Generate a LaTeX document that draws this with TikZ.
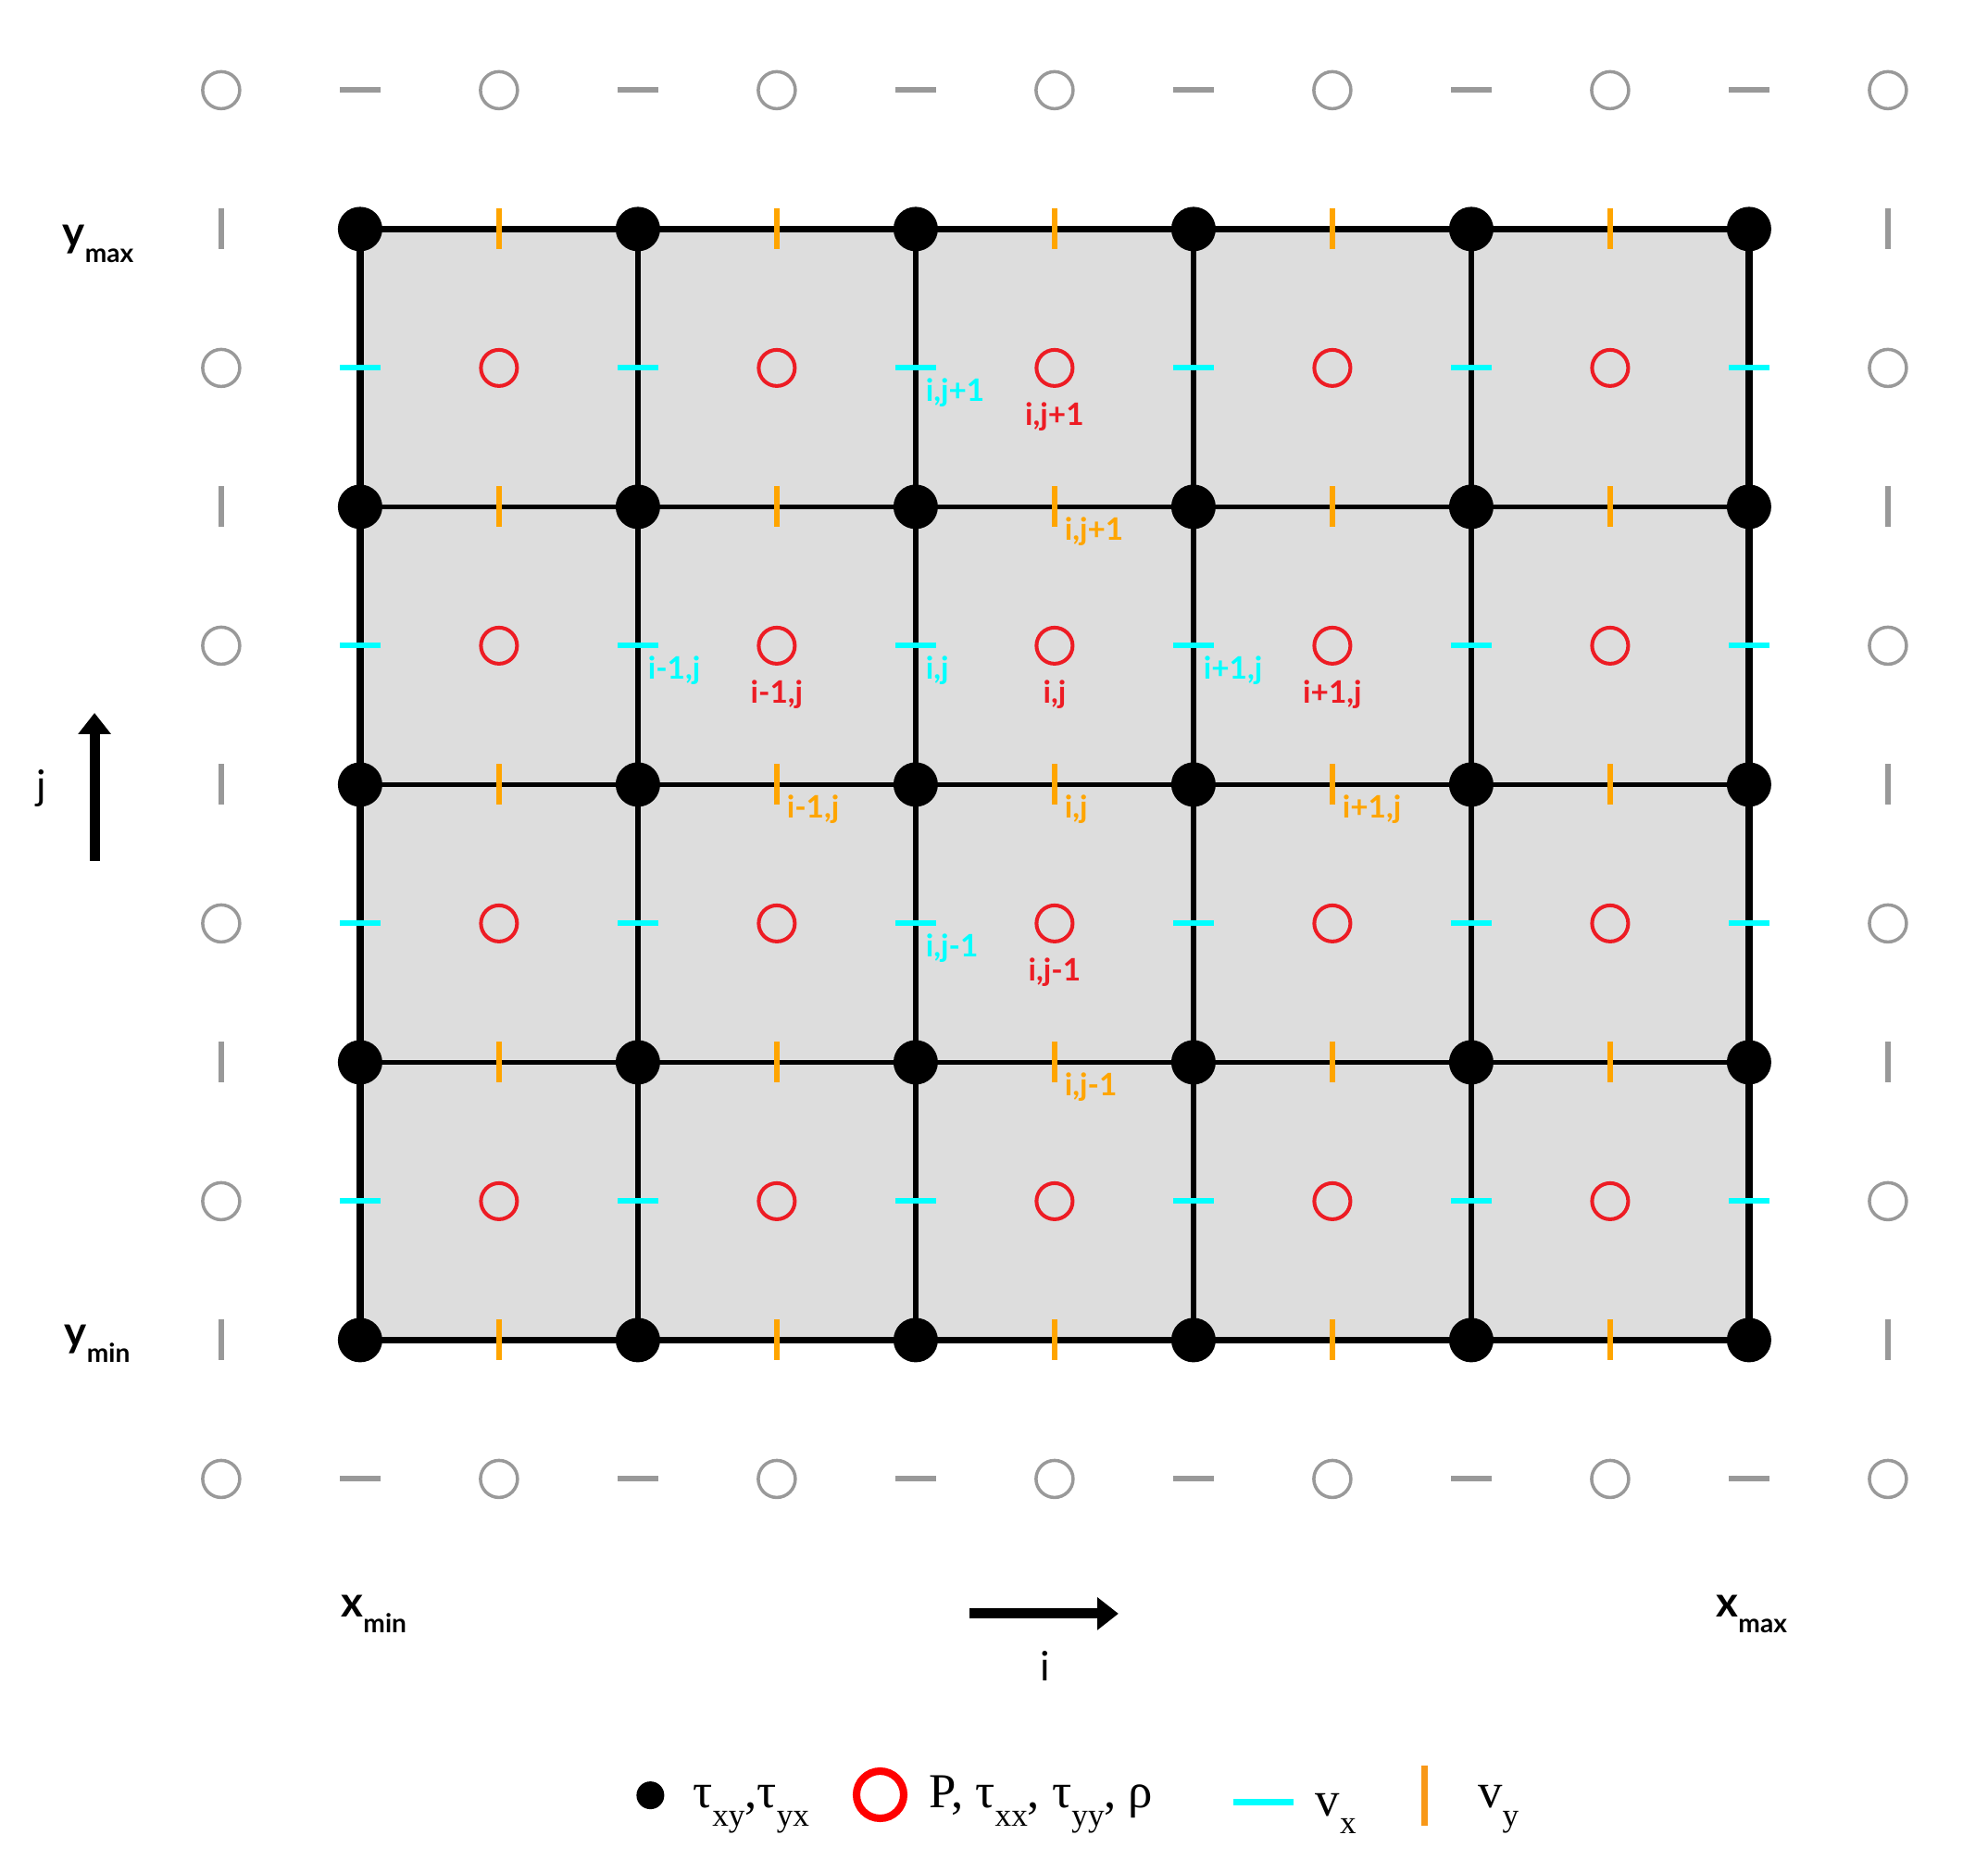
\documentclass[tikz,border=0pt]{standalone}
\usepackage{fontspec}
\setmainfont{Lato}
\newfontfamily\legendfont{Liberation Serif}
\usetikzlibrary{positioning,arrows.meta}

\definecolor{cellgray}{RGB}{221,221,221}
\definecolor{ghostgray}{RGB}{153,153,153}
\definecolor{pred}{RGB}{237,28,36}
\definecolor{vxcyan}{RGB}{0,255,255}
\definecolor{vyorange}{RGB}{255,165,0}
\definecolor{legorange}{RGB}{248,152,24}

\newcommand{\lsub}[1]{\raisebox{-5.6pt}{\fontsize{10}{10}\selectfont #1}}
\newcommand{\axsub}[1]{\raisebox{-4.7pt}{\fontsize{8}{8}\selectfont #1}}

\tikzset{
  tdot/.style={circle,fill=black,inner sep=0pt,minimum size=0.48cm},
  pcirc/.style={circle,draw=pred,line width=1.15pt,inner sep=0pt,minimum size=0.39cm},
  ghostcirc/.style={circle,draw=ghostgray,line width=1pt,inner sep=0pt,minimum size=0.40cm},
  vxbar/.style={rectangle,fill=vxcyan,inner sep=0pt,minimum width=0.44cm,minimum height=0.06cm},
  vybar/.style={rectangle,fill=vyorange,inner sep=0pt,minimum width=0.06cm,minimum height=0.44cm},
  ghosth/.style={vxbar,fill=ghostgray},
  ghostv/.style={vybar,fill=ghostgray},
  gridline/.style={line width=1.5pt},
  gridborder/.style={line width=2.2pt},
  idxlab/.style={inner sep=0pt,font=\fontsize{9.5}{9.5}\selectfont\bfseries},
  axlab/.style={inner sep=0pt,anchor=base west},
  dirarrow/.style={line width=3.1pt,-{Triangle[length=6.5pt,width=9.7pt]}},
  legtext/.style={inner sep=0pt,anchor=base west,font=\legendfont\fontsize{15}{15}\selectfont}
}

\begin{document}
\begin{tikzpicture}[x=3cm,y=3cm]
  \useasboundingbox (-1.2963,-1.8687) rectangle (5.8603,4.8247);
  \fill[cellgray] (0,0) rectangle (5,4);
  \foreach \i in {0,...,5}{\foreach \j in {0,...,4}{\coordinate (g-\i-\j) at (\i,\j);}}
  \foreach \i in {1,...,4}{\draw[gridline] (g-\i-0) -- (g-\i-4);}
  \foreach \j in {1,...,3}{\draw[gridline] (g-0-\j) -- (g-5-\j);}
  \draw[gridborder] (g-0-0) rectangle (g-5-4);

  % staggered unknowns
  \foreach \i in {0,...,5}{\foreach \j in {0,...,3}{\node[vxbar] (vx-\i-\j) at (\i,\j+0.5) {};}}
  \foreach \i in {0,...,4}{\foreach \j in {0,...,4}{\node[vybar] (vy-\i-\j) at (\i+0.5,\j) {};}}
  \foreach \i in {0,...,4}{\foreach \j in {0,...,3}{\node[pcirc] (p-\i-\j) at (\i+0.5,\j+0.5) {};}}
  \foreach \i in {0,...,5}{\foreach \j in {0,...,4}{\node[tdot] (t-\i-\j) at (g-\i-\j) {};}}

  % ghost points
  \foreach \i in {-1,...,5}{
    \node[ghostcirc] (gb-\i) at (\i+0.5,-0.5) {};
    \node[ghostcirc] (gt-\i) at (\i+0.5,4.5) {};}
  \foreach \j in {0,...,3}{
    \node[ghostcirc] (gl-\j) at (-0.5,\j+0.5) {};
    \node[ghostcirc] (gr-\j) at (5.5,\j+0.5) {};}
  \foreach \j in {0,...,4}{
    \node[ghostv] (gvl-\j) at (-0.5,\j) {};
    \node[ghostv] (gvr-\j) at (5.5,\j) {};}
  \foreach \i in {0,...,5}{
    \node[ghosth] (ghb-\i) at (\i,-0.5) {};
    \node[ghosth] (ght-\i) at (\i,4.5) {};}

  % index labels
  \node[idxlab,text=vxcyan,below right=2.9pt and 2.9pt of vx-2-3.center] (vxl-up) {i,j+1};
  \node[idxlab,text=vxcyan,below right=2.9pt and 2.9pt of vx-1-2.center] (vxl-left) {i-1,j};
  \node[idxlab,text=vxcyan,below right=2.9pt and 2.9pt of vx-2-2.center] (vxl-mid) {i,j};
  \node[idxlab,text=vxcyan,below right=2.9pt and 2.9pt of vx-3-2.center] (vxl-right) {i+1,j};
  \node[idxlab,text=vxcyan,below right=2.9pt and 2.9pt of vx-2-1.center] (vxl-down) {i,j-1};
  \node[idxlab,text=pred,below=10.5pt of p-2-3.center] (pl-up) {i,j+1};
  \node[idxlab,text=pred,below=10.5pt of p-1-2.center] (pl-left) {i-1,j};
  \node[idxlab,text=pred,below=10.5pt of p-2-2.center] (pl-mid) {i,j};
  \node[idxlab,text=pred,below=10.5pt of p-3-2.center] (pl-right) {i+1,j};
  \node[idxlab,text=pred,below=10.5pt of p-2-1.center] (pl-down) {i,j-1};
  \node[idxlab,text=vyorange,below right=2.9pt and 2.9pt of vy-2-3.center] (vyl-up) {i,j+1};
  \node[idxlab,text=vyorange,below right=2.9pt and 2.9pt of vy-1-2.center] (vyl-left) {i-1,j};
  \node[idxlab,text=vyorange,below right=2.9pt and 2.9pt of vy-2-2.center] (vyl-mid) {i,j};
  \node[idxlab,text=vyorange,below right=2.9pt and 2.9pt of vy-3-2.center] (vyl-right) {i+1,j};
  \node[idxlab,text=vyorange,below right=2.9pt and 2.9pt of vy-2-1.center] (vyl-down) {i,j-1};

  % domain limits and index directions
  \node[axlab] (ymax) at (-1.073,3.935) {\fontsize{13}{13}\selectfont\bfseries y\axsub{max}};
  \node[axlab] (ymin) at (-1.066,-0.025) {\fontsize{13}{13}\selectfont\bfseries y\axsub{min}};
  \node[axlab] (xmin) at (-0.070,-0.998) {\fontsize{13}{13}\selectfont\bfseries x\axsub{min}};
  \node[axlab] (xmax) at (4.880,-0.998) {\fontsize{13}{13}\selectfont\bfseries x\axsub{max}};
  \coordinate (jtail) at (-0.956,1.725);
  \coordinate (jtip) at (-0.956,2.258);
  \coordinate (itail) at (2.194,-0.985);
  \coordinate (itip) at (2.730,-0.985);
  \draw[dirarrow] (jtail) -- (jtip);
  \draw[dirarrow] (itail) -- (itip);
  \node[inner sep=0pt,font=\fontsize{12.5}{12.5}\selectfont] (jlab) at (-1.148,1.988) {j};
  \node[inner sep=0pt,font=\fontsize{12.5}{12.5}\selectfont] (ilab) at (2.467,-1.172) {i};

  % legend
  \node[tdot,minimum size=0.30cm] (legdot) at (1.045,-1.639) {};
  \node[legtext] (legtau) at (1.195,-1.685) {τ\lsub{xy},τ\lsub{yx}};
  \node[circle,draw=red,line width=2.3pt,inner sep=0pt,minimum size=0.51cm] (legcirc) at (1.872,-1.637) {};
  \node[legtext] (legp) at (2.047,-1.685) {P, τ\lsub{xx}, τ\lsub{yy}, ρ};
  \node[vxbar,minimum width=0.65cm,minimum height=0.07cm] (legvx) at (3.2525,-1.664) {};
  \node[legtext] (legvxt) at (3.437,-1.712) {v\lsub{x}};
  \node[vybar,fill=legorange,minimum width=0.07cm,minimum height=0.65cm] (legvy) at (3.832,-1.640) {};
  \node[legtext] (legvyt) at (4.022,-1.685) {v\lsub{y}};
\end{tikzpicture}
\end{document}
